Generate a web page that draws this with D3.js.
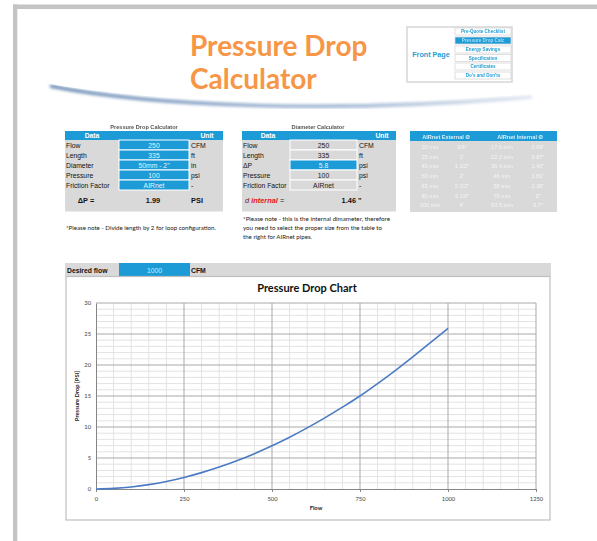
<!DOCTYPE html>
<html>
<head>
<meta charset="utf-8">
<script src="https://cdn.jsdelivr.net/npm/d3@7/dist/d3.min.js"></script>
<style>
  body { margin: 0; background: #fff; }
  svg { display: block; }
</style>
</head>
<body>
<svg id="page" width="597" height="541"></svg>
<script>
// Curve (flow in CFM, pressure drop in PSI)
const flowValues = [0, 50, 100, 150, 200, 250, 300, 350, 400, 450, 500, 550, 600, 650, 700, 750, 800, 850, 900, 950, 1000];
const pressureDrop = [0, 0.1, 0.33, 0.71, 1.22, 1.87, 2.64, 3.54, 4.56, 5.7, 6.97, 8.35, 9.86, 11.47, 13.2, 15.0, 17.0, 19.1, 21.3, 23.6, 25.9];
const xTicks = [0, 250, 500, 750, 1000, 1250];
const yTicks = [0, 5, 10, 15, 20, 25, 30];
const desiredFlow = '1000';

// Calculator tables
const calcLabels = ['Flow', 'Length', 'Diameter', 'Pressure', 'Friction Factor'];
const calcValues = ['250', '335', '50mm - 2"', '100', 'AIRnet'];
const calcUnits = ['CFM', 'ft', 'in', 'psi', '-'];
const diamLabels = ['Flow', 'Length', 'ΔP', 'Pressure', 'Friction Factor'];
const diamValues = ['250', '335', '5.8', '100', 'AIRnet'];
const diamUnits = ['CFM', 'ft', 'psi', 'psi', '-'];
const pipeHeaders = ['AIRnet External Ø', 'AIRnet Internal Ø'];
const pipeRows = [
  ['20 mm', '3/4"', '17.6 mm', '0.69"'],
  ['25 mm', '1"', '22.2 mm', '0.87"'],
  ['40 mm', '1 1/2"', '36.4 mm', '1.43"'],
  ['50 mm', '2"', '46 mm', '1.81"'],
  ['63 mm', '2 1/2"', '58 mm', '2.28"'],
  ['80 mm', '3 1/8"', '76 mm', '3"'],
  ['100 mm', '4"', '93.5 mm', '3.7"']
];
const navButtons = ['Pre-Quote Checklist', 'Pressure Drop Calc', 'Energy Savings', 'Specification', 'Certificates', "Do's and Don'ts"];
const noteLeft = ['*Please note - Divide length by 2 for loop configuration.'];
const noteRight = ['*Please note - this is the internal dimameter, therefore',
  'you need to select the proper size from the table to',
  'the right for AIRnet pipes.'];

const blue = '#1c9bd6';
const grey = '#d9d9d9';
const arial = 'Liberation Sans, Arial, sans-serif';
const lato = 'Lato, sans-serif';

const svg = d3.select('#page');
const defs = svg.append('defs');
defs.append('filter').attr('id', 'blur').append('feGaussianBlur').attr('stdDeviation', 0.6);
defs.append('filter').attr('id', 'blur2').append('feGaussianBlur').attr('stdDeviation', 1.4);
const shadowGrad = defs.append('linearGradient').attr('id', 'shadowGrad');
shadowGrad.append('stop').attr('offset', '0%').attr('stop-color', '#6f8fb8');
shadowGrad.append('stop').attr('offset', '60%').attr('stop-color', '#9fb5d3');
shadowGrad.append('stop').attr('offset', '100%').attr('stop-color', '#dfe6f0');

// page frame
svg.append('rect').attr('x', 13).attr('y', 4.5).attr('width', 584).attr('height', 4.5).attr('fill', '#c4c4c4');
svg.append('rect').attr('x', 13).attr('y', 4.5).attr('width', 4.3).attr('height', 537).attr('fill', '#c4c4c4');

// banner card
const banner = svg.append('g');
banner.append('line').attr('x1', 50.5).attr('x2', 50.5).attr('y1', 27).attr('y2', 87)
  .attr('stroke', '#dcdcdc').attr('stroke-width', 1.5).attr('filter', 'url(#blur)');
banner.append('line').attr('x1', 531).attr('x2', 531).attr('y1', 27).attr('y2', 98)
  .attr('stroke', '#eeeeee').attr('stroke-width', 1.5).attr('filter', 'url(#blur)');
banner.append('path').attr('d', 'M50,86 C150,106 330,114 532,97')
  .attr('fill', 'none').attr('stroke', 'url(#shadowGrad)').attr('stroke-width', 3.5).attr('filter', 'url(#blur2)');
banner.append('path').attr('d', 'M50,84 C150,102 330,108 532,94 L532,20 L50,20 Z').attr('fill', '#fff');

banner.append('text').attr('x', 190).attr('y', 56).attr('font-family', lato).attr('font-weight', 700)
  .attr('font-size', 28).attr('fill', '#f79646').text('Pressure Drop');
banner.append('text').attr('x', 190).attr('y', 89).attr('font-family', lato).attr('font-weight', 700)
  .attr('font-size', 28).attr('fill', '#f79646').text('Calculator');

// navigation block
const nav = svg.append('g');
nav.append('rect').attr('x', 407).attr('y', 27).attr('width', 105).attr('height', 55)
  .attr('fill', '#fff').attr('stroke', '#d6d6d6').attr('stroke-width', 1.5).attr('filter', 'url(#blur)');
nav.append('rect').attr('x', 409).attr('y', 29).attr('width', 45).attr('height', 51).attr('fill', '#fff');
nav.append('text').attr('x', 431).attr('y', 57).attr('text-anchor', 'middle').attr('font-family', arial)
  .attr('font-weight', 700).attr('font-size', 7.2).attr('fill', '#1f9ed6').text('Front Page');
navButtons.forEach((b, i) => {
  const top = [28, 37, 46, 54.5, 63, 72][i];
  const active = i === 1;
  nav.append('rect').attr('x', 455).attr('y', top).attr('width', 56).attr('height', 7)
    .attr('fill', active ? blue : '#fff').attr('stroke', '#d8d8d8').attr('stroke-width', 0.8);
  nav.append('text').attr('x', 483).attr('y', top + 5.2).attr('text-anchor', 'middle').attr('font-family', arial)
    .attr('font-weight', 700).attr('font-size', 4.6).attr('fill', active ? '#a6dcf3' : '#1f9ed6')
    .attr('filter', 'url(#blur)').text(b);
});

// generic calculator table
function drawCalc(opt) {
  const g = svg.append('g');
  const x0 = opt.x0, x1 = opt.x1;
  g.append('text').attr('x', opt.titleX).attr('y', 129).attr('text-anchor', 'middle').attr('font-family', arial)
    .attr('font-weight', 700).attr('font-size', 5.6).attr('fill', '#555').attr('filter', 'url(#blur)').text(opt.title);
  g.append('rect').attr('x', x0).attr('y', 131).attr('width', x1 - x0).attr('height', 9).attr('fill', blue);
  g.append('rect').attr('x', x0).attr('y', 140).attr('width', x1 - x0).attr('height', 71.5).attr('fill', grey);
  g.append('text').attr('x', opt.dataX).attr('y', 138).attr('text-anchor', 'middle').attr('font-family', arial)
    .attr('font-weight', 700).attr('font-size', 6.8).attr('fill', '#fff').text('Data');
  g.append('text').attr('x', opt.unitX).attr('y', 138).attr('text-anchor', 'middle').attr('font-family', arial)
    .attr('font-weight', 700).attr('font-size', 6.8).attr('fill', '#fff').text('Unit');
  opt.labels.forEach((lab, i) => {
    const top = 140 + i * 10;
    const isBlue = opt.blueRows.includes(i);
    g.append('rect').attr('x', opt.cx0).attr('y', top).attr('width', opt.cx1 - opt.cx0).attr('height', 10)
      .attr('fill', isBlue ? blue : grey).attr('stroke', '#fff').attr('stroke-width', 1);
    g.append('text').attr('x', x0 + 1).attr('y', top + 7.8).attr('font-family', arial).attr('font-size', 6.8)
      .attr('fill', '#111').text(lab);
    g.append('text').attr('x', (opt.cx0 + opt.cx1) / 2).attr('y', top + 7.8).attr('text-anchor', 'middle')
      .attr('font-family', arial).attr('font-size', 6.8).attr('fill', isBlue ? '#e3f3fb' : '#222').text(opt.values[i]);
    g.append('text').attr('x', opt.cx1 + 2).attr('y', top + 7.8).attr('font-family', arial).attr('font-size', 6.8)
      .attr('fill', '#111').text(opt.units[i]);
  });
  return g;
}

const t1 = drawCalc({
  x0: 65, x1: 223, cx0: 119, cx1: 189, titleX: 144, dataX: 92, unitX: 207,
  title: 'Pressure Drop Calculator', labels: calcLabels, values: calcValues, units: calcUnits, blueRows: [0, 1, 2, 3, 4]
});
t1.append('text').attr('x', 86).attr('y', 203).attr('text-anchor', 'middle').attr('font-family', arial)
  .attr('font-weight', 700).attr('font-size', 7.4).attr('fill', '#111').text('ΔP =');
t1.append('text').attr('x', 153).attr('y', 203).attr('text-anchor', 'middle').attr('font-family', arial)
  .attr('font-weight', 700).attr('font-size', 7.4).attr('fill', '#111').text('1.99');
t1.append('text').attr('x', 197).attr('y', 203).attr('text-anchor', 'middle').attr('font-family', arial)
  .attr('font-weight', 700).attr('font-size', 7.4).attr('fill', '#111').text('PSI');

const t2 = drawCalc({
  x0: 242, x1: 396, cx0: 290, cx1: 357, titleX: 318, dataX: 268, unitX: 382,
  title: 'Diameter Calculator', labels: diamLabels, values: diamValues, units: diamUnits, blueRows: [2]
});
const dres = t2.append('text').attr('x', 245).attr('y', 203).attr('font-family', arial).attr('font-size', 7.4);
dres.append('tspan').attr('font-style', 'italic').attr('fill', '#7a1010').text('d ');
dres.append('tspan').attr('font-style', 'italic').attr('font-weight', 700).attr('fill', '#e8141b').text('internal');
dres.append('tspan').attr('fill', '#222').text(' =');
t2.append('text').attr('x', 356).attr('y', 203).attr('text-anchor', 'end').attr('font-family', arial)
  .attr('font-weight', 700).attr('font-size', 7.4).attr('fill', '#111').text('1.46');
t2.append('text').attr('x', 358).attr('y', 203).attr('font-family', arial)
  .attr('font-weight', 700).attr('font-size', 7.4).attr('fill', '#111').text('"');

// pipe size table (faded in the original)
const t3 = svg.append('g');
t3.append('rect').attr('x', 410).attr('y', 131).attr('width', 147).attr('height', 10).attr('fill', blue);
t3.append('rect').attr('x', 410).attr('y', 141).attr('width', 147).attr('height', 71).attr('fill', grey);
const pipeCols = [430, 462, 502, 538];
pipeHeaders.forEach((h, i) => {
  t3.append('text').attr('x', i === 0 ? 446 : 520).attr('y', 138.5).attr('text-anchor', 'middle')
    .attr('font-family', arial).attr('font-weight', 700).attr('font-size', 5.6).attr('fill', '#d6eef9')
    .attr('filter', 'url(#blur)').text(h);
});
pipeRows.forEach((row, r) => {
  row.forEach((cell, c) => {
    t3.append('text').attr('x', pipeCols[c]).attr('y', 149 + r * 9.7).attr('text-anchor', 'middle')
      .attr('font-family', arial).attr('font-size', 5.6).attr('fill', '#f4f4f4')
      .attr('filter', 'url(#blur)').text(cell);
  });
});

// notes
const noteWidthsLeft = [150];
const noteWidthsRight = [147, 139, 69];
noteLeft.forEach((s, i) => {
  svg.append('text').attr('x', 66).attr('y', 230).attr('font-family', lato).attr('font-size', 5.6)
    .attr('textLength', noteWidthsLeft[i]).attr('lengthAdjust', 'spacingAndGlyphs')
    .attr('fill', '#222').text(s);
});
noteRight.forEach((s, i) => {
  svg.append('text').attr('x', 243).attr('y', 221 + i * 9).attr('font-family', lato).attr('font-size', 5.6)
    .attr('textLength', noteWidthsRight[i]).attr('lengthAdjust', 'spacingAndGlyphs')
    .attr('fill', '#222').text(s);
});

// desired flow bar
const bar = svg.append('g');
bar.append('rect').attr('x', 65).attr('y', 263).attr('width', 486).attr('height', 13).attr('fill', grey);
bar.append('rect').attr('x', 119).attr('y', 263).attr('width', 71).attr('height', 13).attr('fill', blue);
bar.append('text').attr('x', 67).attr('y', 272.5).attr('font-family', arial).attr('font-weight', 700)
  .attr('font-size', 6.8).attr('fill', '#111').text('Desired flow');
bar.append('text').attr('x', 154.5).attr('y', 272.5).attr('text-anchor', 'middle').attr('font-family', arial)
  .attr('font-size', 6.8).attr('fill', '#cdeaf8').text(desiredFlow);
bar.append('text').attr('x', 191).attr('y', 272.5).attr('font-family', arial).attr('font-weight', 700)
  .attr('font-size', 6.8).attr('fill', '#111').text('CFM');

// chart box
svg.append('rect').attr('x', 66).attr('y', 276.5).attr('width', 484).attr('height', 243.5)
  .attr('fill', '#fff').attr('stroke', '#bfbfbf').attr('stroke-width', 1.2);

const x = d3.scaleLinear().domain([0, 1250]).range([96, 536]);
const y = d3.scaleLinear().domain([0, 30]).range([489, 303]);
const chart = svg.append('g');

// minor gridlines
chart.append('g').selectAll('line').data(d3.range(50, 1251, 50).filter(v => v % 250 !== 0)).join('line')
  .attr('x1', d => x(d)).attr('x2', d => x(d)).attr('y1', y(0)).attr('y2', y(30))
  .attr('stroke', '#e3e3e3').attr('stroke-width', 1);
chart.append('g').selectAll('line').data(d3.range(1, 31).filter(v => v % 5 !== 0)).join('line')
  .attr('x1', x(0)).attr('x2', x(1250)).attr('y1', d => y(d)).attr('y2', d => y(d))
  .attr('stroke', '#e3e3e3').attr('stroke-width', 1);
// major gridlines
chart.append('g').selectAll('line').data(xTicks.slice(1)).join('line')
  .attr('x1', d => x(d)).attr('x2', d => x(d)).attr('y1', y(0)).attr('y2', y(30))
  .attr('stroke', '#a9a9a9').attr('stroke-width', 1);
chart.append('g').selectAll('line').data(yTicks.slice(1)).join('line')
  .attr('x1', x(0)).attr('x2', x(1250)).attr('y1', d => y(d)).attr('y2', d => y(d))
  .attr('stroke', '#a9a9a9').attr('stroke-width', 1);

// axes
const xAxis = chart.append('g').attr('transform', `translate(0,${y(0)})`)
  .call(d3.axisBottom(x).tickValues(xTicks).tickFormat(d3.format('d')).tickSize(3).tickPadding(5));
const yAxis = chart.append('g').attr('transform', `translate(${x(0)},0)`)
  .call(d3.axisLeft(y).tickValues(yTicks).tickFormat(d3.format('d')).tickSize(0).tickPadding(5));
[xAxis, yAxis].forEach(a => {
  a.select('.domain').attr('stroke', '#868686');
  a.selectAll('.tick line').attr('stroke', '#868686');
  a.selectAll('text').attr('font-family', lato).attr('font-size', 5.8).attr('fill', '#404040');
});

// line
chart.append('path').datum(flowValues.map((f, i) => [f, pressureDrop[i]]))
  .attr('fill', 'none').attr('stroke', '#4a7bc4').attr('stroke-width', 1.6)
  .attr('d', d3.line().x(d => x(d[0])).y(d => y(d[1])).curve(d3.curveCatmullRom));

// titles
chart.append('text').attr('x', 307).attr('y', 292).attr('text-anchor', 'middle').attr('font-family', lato)
  .attr('font-weight', 700).attr('font-size', 11).attr('fill', '#111').text('Pressure Drop Chart');
chart.append('text').attr('x', 316).attr('y', 510).attr('text-anchor', 'middle').attr('font-family', lato)
  .attr('font-weight', 700).attr('font-size', 5.8).attr('fill', '#222').text('Flow');
chart.append('text').attr('transform', `translate(79,${(y(0) + y(30)) / 2}) rotate(-90)`).attr('text-anchor', 'middle')
  .attr('font-family', lato).attr('font-weight', 700).attr('font-size', 5.8).attr('fill', '#222')
  .text('Pressure Drop [PSI]');
</script>
</body>
</html>
